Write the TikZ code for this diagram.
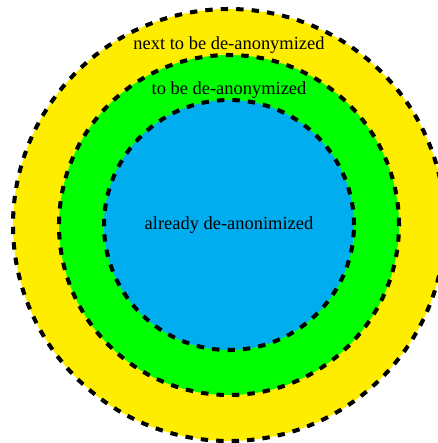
\documentclass[tikz,border=0pt]{standalone}
\usepackage{fontspec}
\setmainfont{Liberation Serif}
\usetikzlibrary{positioning}
\definecolor{Yellow}{HTML}{FFED00}
\definecolor{Green}{HTML}{00FF00}
\definecolor{Blue}{HTML}{00AEEF}
\tikzset{
  ring/.style={circle,draw=black,line width=2.3pt,dash pattern=on 4.2pt off 4.6pt,
    inner sep=0pt},
  lbl/.style={font=\fontsize{10.5}{12}\selectfont,inner sep=0pt}
}

\begin{document}
\begin{tikzpicture}
        \useasboundingbox (-4.58,-4.36) rectangle (4.18,4.5);
        \node[ring,fill=Yellow,minimum size=8.64cm] (next) at (0,0) {};
        \node[ring,fill=Green,minimum size=6.8cm] (tobe) at (0,0) {};
        \node[ring,fill=Blue,minimum size=5cm] (done) at (0,0) {};
        \node[lbl] (nextlbl) at (0,3.6) {next to be de-anonymized};
        \node[lbl] (tobelbl) at (0,2.7) {to be de-anonymized};
        \node[lbl] (donelbl) at (0,0) {already de-anonimized};
      \end{tikzpicture}
\end{document}
